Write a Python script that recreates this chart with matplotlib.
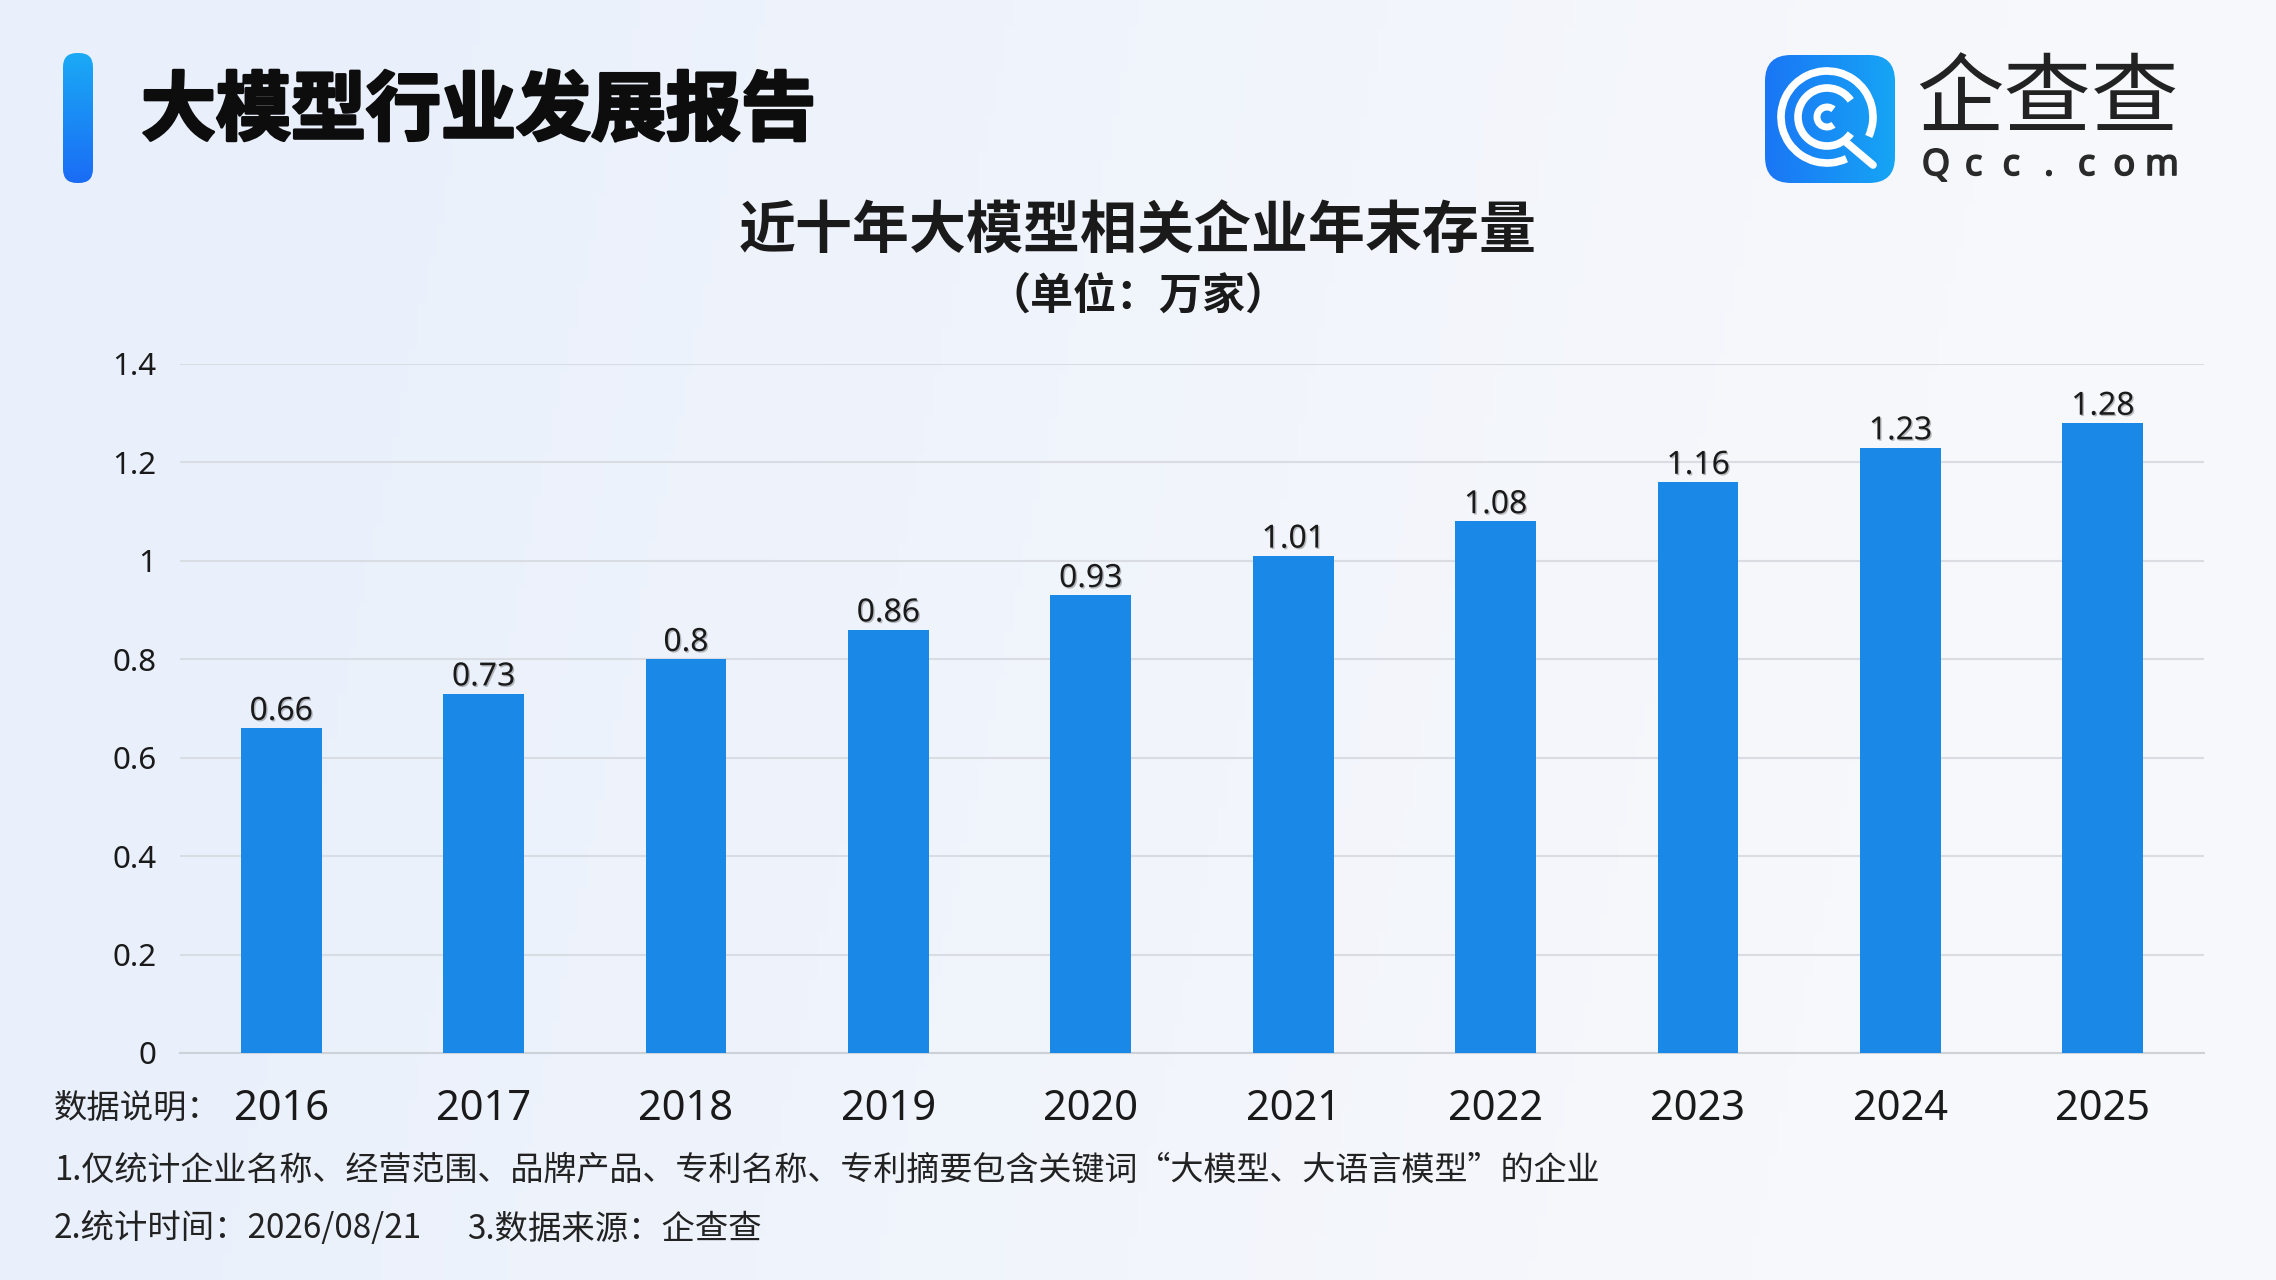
"""Bar chart: year-end stock of large-model related companies, 2016-2025."""

import numpy as np
import matplotlib
matplotlib.use("Agg")
import matplotlib.pyplot as plt
from matplotlib.patches import FancyBboxPatch, Arc
from matplotlib import patheffects

# data
years = ["2016", "2017", "2018", "2019", "2020", "2021", "2022", "2023", "2024", "2025"]
values = [0.66, 0.73, 0.8, 0.86, 0.93, 1.01, 1.08, 1.16, 1.23, 1.28]
y_ticks = [0, 0.2, 0.4, 0.6, 0.8, 1.0, 1.2, 1.4]

header = "大模型行业发展报告"
title = "近十年大模型相关企业年末存量"
subtitle = "（单位：万家）"
note_head = "数据说明："
note_1 = "1.仅统计企业名称、经营范围、品牌产品、专利名称、专利摘要包含关键词“大模型、大语言模型”的企业"
note_2a = "2.统计时间：2026/08/21"
note_2b = "3.数据来源：企查查"

W, H = 2276, 1280
CJK = ["Noto Sans CJK SC", "DejaVu Sans"]
LATIN = ["Noto Sans", "DejaVu Sans"]
BAR_COLOR = "#1a88e6"
TEXT = "#1a1a1a"


def fx(x):
    return x / W


def fy(y):
    return 1 - y / H


def px_axes(fig, left, top, width, height):
    """Axes placed in pixel units, with data coordinates = pixels."""
    ax = fig.add_axes([fx(left), fy(top + height), width / W, height / H])
    ax.set_xlim(0, width)
    ax.set_ylim(0, height)
    ax.axis("off")
    return ax


fig = plt.figure(figsize=(W / 100, H / 100), dpi=100)

# soft background gradient
bg = fig.add_axes([0, 0, 1, 1], zorder=-10)
gx, gy = np.meshgrid(np.linspace(0, 1, 256), np.linspace(0, 1, 144))
left_col = np.array([233, 240, 251]) / 255
right_col = np.array([247, 248, 252]) / 255
t = np.clip(gx * 1.3 - 0.15 * gy, 0, 1)[..., None]
img = left_col * (1 - t) + right_col * t
bg.imshow(img, aspect="auto", extent=[0, 1, 0, 1], origin="lower")
bg.axis("off")

# header accent pill
pill = px_axes(fig, 63, 53, 30, 130)
grad = np.linspace(0, 1, 100)[:, None, None]
top_c = np.array([26, 170, 245]) / 255
bot_c = np.array([26, 108, 245]) / 255
pill_img = top_c * (1 - grad) + bot_c * grad
im = pill.imshow(pill_img, aspect="auto", extent=[0, 30, 0, 130], origin="upper")
clip = FancyBboxPatch((0, 0), 30, 130, boxstyle="round,pad=0,rounding_size=14",
                      transform=pill.transData, facecolor="none", edgecolor="none")
pill.add_patch(clip)
im.set_clip_path(clip)

heavy = [patheffects.withStroke(linewidth=2.2, foreground="#0d0d0d")]
fig.text(fx(141), fy(112), header, fontsize=54, fontweight="black", family=CJK,
         color="#0d0d0d", ha="left", va="center", path_effects=heavy)

# logo icon
icon = px_axes(fig, 1765, 55, 130, 128)
gx2 = np.linspace(0, 1, 100)[None, :, None]
icon_img = (np.array([26, 118, 245]) / 255) * (1 - gx2) + (np.array([22, 165, 245]) / 255) * gx2
icon_img = np.repeat(icon_img, 100, axis=0)
im2 = icon.imshow(icon_img, aspect="auto", extent=[0, 130, 0, 128], origin="upper")
clip2 = FancyBboxPatch((0, 0), 130, 128, boxstyle="round,pad=0,rounding_size=26",
                       transform=icon.transData, facecolor="none", edgecolor="none")
icon.add_patch(clip2)
im2.set_clip_path(clip2)
cx, cy = 62, 66
icon.add_patch(Arc((cx, cy), 92, 92, theta1=-25, theta2=295, color="white", lw=5.5, zorder=3))
icon.add_patch(Arc((cx, cy), 58, 58, theta1=35, theta2=325, color="white", lw=5.5, zorder=3))
icon.add_patch(Arc((cx, cy), 20, 20, theta1=50, theta2=310, color="white", lw=5, zorder=3))
icon.plot([cx + 20, cx + 46], [cy - 26, cy - 48], color="white", lw=5.5,
          solid_capstyle="round", zorder=3)

fig.text(fx(1916), fy(101), "企查查", fontsize=63, fontweight="medium", family=CJK,
         color="#222222", ha="left", va="center")
logo_stroke = [patheffects.withStroke(linewidth=1.2, foreground="#2a2a2a")]
for xc, ch in zip(np.linspace(1936, 2162, len("Qcc.com")), "Qcc.com"):
    fig.text(fx(xc), fy(166), ch, fontsize=26, fontweight="bold", family=LATIN,
             color="#2a2a2a", ha="center", va="center", path_effects=logo_stroke)

# titles
fig.text(fx(1138), fy(232), title, fontsize=41, fontweight="bold", family=CJK,
         color=TEXT, ha="center", va="center")
fig.text(fx(1138), fy(296), subtitle, fontsize=31, fontweight="bold", family=CJK,
         color=TEXT, ha="center", va="center")

# main chart
ax = fig.add_axes([fx(180), fy(1053), (2204 - 180) / W, (1053 - 364) / H])
ax.set_facecolor("none")
x = np.arange(len(years))
ax.bar(x, values, width=0.4, color=BAR_COLOR, zorder=3)
ax.set_xlim(-0.5, len(years) - 0.5)
ax.set_ylim(0, 1.4)
ax.set_yticks(y_ticks)
ax.set_yticklabels([f"{v:g}" for v in y_ticks], fontsize=22.5, family=LATIN, color=TEXT)
ax.set_xticks(x)
ax.set_xticklabels(years, fontsize=30, family=LATIN, color=TEXT)
ax.tick_params(axis="both", length=0)
ax.tick_params(axis="y", pad=17)
ax.tick_params(axis="x", pad=25)
ax.grid(axis="y", color="#d9dde3", linewidth=1.5, zorder=0)
for side in ["top", "right", "left"]:
    ax.spines[side].set_visible(False)
ax.spines["bottom"].set_color("#cdd2d9")
ax.spines["bottom"].set_linewidth(1.5)

shadow = [patheffects.withSimplePatchShadow(offset=(1, -1), alpha=0.25, shadow_rgbFace="#000000")]
for xi, v in zip(x, values):
    ax.annotate(f"{v:g}", (xi, v), xytext=(0, 6), textcoords="offset points",
                ha="center", va="baseline", fontsize=23, family=LATIN, color=TEXT,
                path_effects=shadow, zorder=4)

# notes
fig.text(fx(54), fy(1108), note_head, fontsize=24, family=CJK, color="#222222",
         ha="left", va="center")
fig.text(fx(54), fy(1170), note_1, fontsize=23.8, family=CJK, color="#222222",
         ha="left", va="center")
fig.text(fx(54), fy(1229), note_2a, fontsize=24, family=CJK, color="#222222",
         ha="left", va="center")
fig.text(fx(467), fy(1229), note_2b, fontsize=24, family=CJK, color="#222222",
         ha="left", va="center")

fig.savefig("out.png", dpi=100)
